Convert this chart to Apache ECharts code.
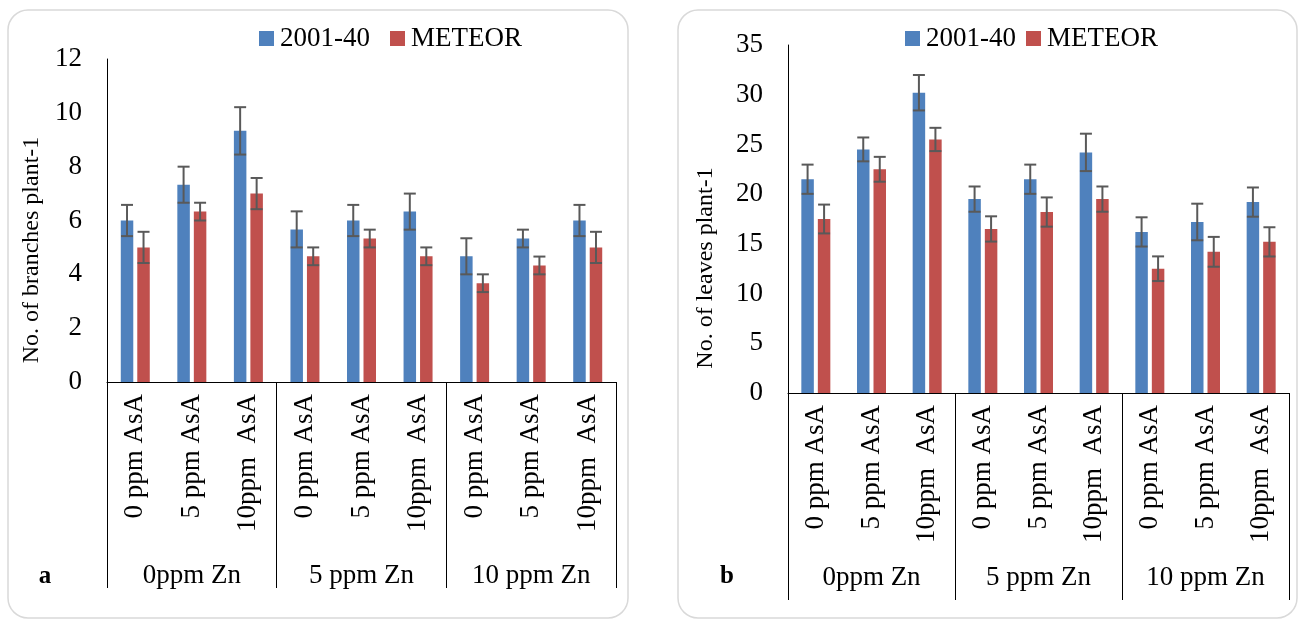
<!DOCTYPE html>
<html><head><meta charset="utf-8">
<script src="https://cdn.jsdelivr.net/npm/echarts@6/dist/echarts.min.js"></script>
<style>html,body{margin:0;padding:0;background:#fff;}#c{width:1301px;height:622px;}</style>
</head><body><div id="c"></div>
<script>
const categories = ['0 ppm AsA', '5 ppm AsA', '10ppm  AsA', '0 ppm AsA', '5 ppm AsA', '10ppm  AsA', '0 ppm AsA', '5 ppm AsA', '10ppm  AsA'];
const groups = ['0ppm Zn', '5 ppm Zn', '10 ppm Zn'];
const seriesNames = ['2001-40', 'METEOR'];

// Panel a: No. of branches plant-1
const branches2001 = [6.0, 7.33, 9.33, 5.67, 6.0, 6.33, 4.67, 5.33, 6.0];
const branches2001Err = [0.58, 0.67, 0.88, 0.67, 0.58, 0.67, 0.67, 0.33, 0.58];
const branchesMeteor = [5.0, 6.33, 7.0, 4.67, 5.33, 4.67, 3.67, 4.33, 5.0];
const branchesMeteorErr = [0.58, 0.33, 0.58, 0.33, 0.33, 0.33, 0.33, 0.33, 0.58];

// Panel b: No. of leaves plant-1
const leaves2001 = [21.5, 24.5, 30.2, 19.5, 21.5, 24.2, 16.2, 17.2, 19.2];
const leaves2001Err = [1.47, 1.2, 1.78, 1.27, 1.47, 1.88, 1.47, 1.84, 1.47];
const leavesMeteor = [17.5, 22.5, 25.5, 16.5, 18.2, 19.5, 12.5, 14.2, 15.2];
const leavesMeteorErr = [1.45, 1.25, 1.17, 1.27, 1.47, 1.27, 1.24, 1.5, 1.47];

const leftTicks = {min: 0, max: 12, interval: 2};
const rightTicks = {min: 0, max: 35, interval: 5};

const FONT = 'Liberation Serif';
const FS = 27;
const BLUE = '#4F81BD', RED = '#C0504D';
const BAR_W = 12.5, BAR_GAP = 4;
const OFF = (BAR_W + BAR_GAP) / 2;

function errRender(offset) {
  return function (params, api) {
    const x = api.value(0), v = api.value(1), e = api.value(2);
    const t = api.coord([x, v + e]);
    const b = api.coord([x, v - e]);
    const cx = t[0] + offset;
    const st = {stroke: '#595959', lineWidth: 2};
    return {type: 'group', children: [
      {type: 'line', shape: {x1: cx, y1: t[1], x2: cx, y2: b[1]}, style: st},
      {type: 'line', shape: {x1: cx - 6, y1: t[1], x2: cx + 6, y2: t[1]}, style: st},
      {type: 'line', shape: {x1: cx - 6, y1: b[1], x2: cx + 6, y2: b[1]}, style: st}
    ]};
  };
}
function errData(vals, errs) { return vals.map((v, i) => [i, v, errs[i]]); }

const txt = {fontFamily: FONT, fontSize: FS, color: '#000'};

function catAxis(gi) {
  return {type: 'category', gridIndex: gi, data: categories, position: 'bottom',
    axisLine: {show: true, lineStyle: {color: '#000', width: 1}},
    axisTick: {show: false},
    axisLabel: Object.assign({rotate: 90, margin: 12, interval: 0}, txt)};
}
function grpAxis(gi, tickLen, labMargin) {
  return {type: 'category', gridIndex: gi, data: groups, position: 'bottom',
    axisLine: {show: false},
    axisTick: {show: true, length: tickLen, lineStyle: {color: '#000', width: 1}},
    axisLabel: Object.assign({margin: labMargin, interval: 0}, txt)};
}
function valAxis(gi, t) {
  return {type: 'value', gridIndex: gi, min: t.min, max: t.max, interval: t.interval,
    splitLine: {show: false},
    axisLine: {show: true, lineStyle: {color: '#000', width: 1}},
    axisTick: {show: false},
    axisLabel: Object.assign({margin: 25}, txt)};
}
function bars(name, color, xi, yi, data) {
  return {name: name, type: 'bar', xAxisIndex: xi, yAxisIndex: yi, data: data,
    barWidth: BAR_W, barGap: (BAR_GAP / BAR_W * 100) + '%',
    itemStyle: {color: color}, z: 2};
}
function errs(name, xi, yi, vals, e, off) {
  return {name: name, type: 'custom', xAxisIndex: xi, yAxisIndex: yi,
    renderItem: errRender(off), data: errData(vals, e), encode: {x: 0, y: 1}, z: 5, silent: true};
}
function legend(left, gap) {
  return {left: left, top: 20, itemWidth: 15, itemHeight: 15, itemGap: gap,
    data: [{name: seriesNames[0], icon: 'rect', itemStyle: {color: BLUE}}, {name: seriesNames[1], icon: 'rect', itemStyle: {color: RED}}],
    textStyle: {fontFamily: FONT, fontSize: 27, color: '#000', padding: [0, 0, 0, 1]}};
}

const chart = echarts.init(document.getElementById('c'), null, {renderer: 'canvas'});
chart.setOption({
  animation: false,
  backgroundColor: '#fff',
  graphic: [
    {type: 'rect', shape: {x: 8, y: 10, width: 620, height: 608, r: 20}, style: {fill: 'none', stroke: '#d9d9d9', lineWidth: 1.5}, z: -10},
    {type: 'rect', shape: {x: 678, y: 10, width: 619, height: 608, r: 20}, style: {fill: 'none', stroke: '#d9d9d9', lineWidth: 1.5}, z: -10},
    {type: 'text', x: 32, y: 250, rotation: Math.PI / 2, style: {text: 'No. of branches plant-1', fontFamily: FONT, fontSize: 24, fill: '#000', align: 'center', verticalAlign: 'middle'}},
    {type: 'text', x: 706, y: 268, rotation: Math.PI / 2, style: {text: 'No. of leaves plant-1', fontFamily: FONT, fontSize: 24, fill: '#000', align: 'center', verticalAlign: 'middle'}},
    {type: 'text', x: 45, y: 577, style: {text: 'a', fontFamily: FONT, fontSize: 25, fontWeight: 'bold', fill: '#000', align: 'center', verticalAlign: 'middle'}},
    {type: 'text', x: 727, y: 577, style: {text: 'b', fontFamily: FONT, fontSize: 25, fontWeight: 'bold', fill: '#000', align: 'center', verticalAlign: 'middle'}}
  ],
  legend: [legend(254, 20), legend(900, 10)],
  grid: [
    {left: 107, right: 1301 - 616, top: 59, bottom: 622 - 382},
    {left: 788, right: 1301 - 1289, top: 45, bottom: 622 - 393}
  ],
  xAxis: [catAxis(0), grpAxis(0, 206, 180), catAxis(1), grpAxis(1, 207, 171)],
  yAxis: [valAxis(0, leftTicks), valAxis(1, rightTicks)],
  series: [
    bars(seriesNames[0], BLUE, 0, 0, branches2001),
    bars(seriesNames[1], RED, 0, 0, branchesMeteor),
    errs(seriesNames[0], 0, 0, branches2001, branches2001Err, -OFF),
    errs(seriesNames[1], 0, 0, branchesMeteor, branchesMeteorErr, OFF),
    bars(seriesNames[0], BLUE, 2, 1, leaves2001),
    bars(seriesNames[1], RED, 2, 1, leavesMeteor),
    errs(seriesNames[0], 2, 1, leaves2001, leaves2001Err, -OFF),
    errs(seriesNames[1], 2, 1, leavesMeteor, leavesMeteorErr, OFF)
  ]
});
</script></body></html>
